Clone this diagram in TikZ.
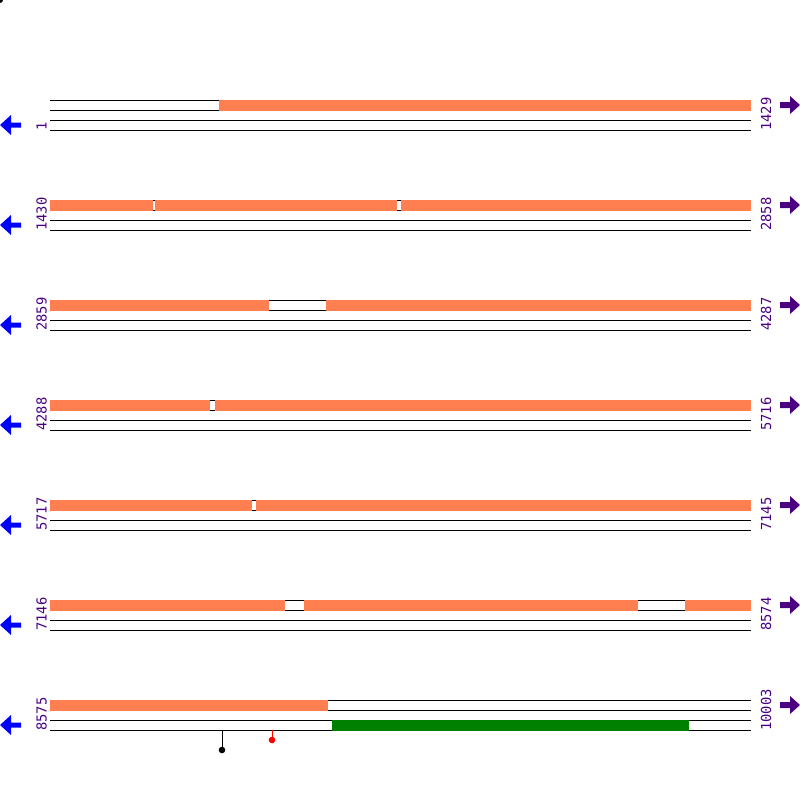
\documentclass[tikz,border=0pt]{standalone}
\usepackage{fontspec}
\newfontfamily\posfont{DejaVu Sans Mono}
\usepackage{xcolor}
\usepackage{tikz}
\usetikzlibrary{positioning}
\definecolor{hitorange}{RGB}{255,127,80}
\definecolor{orfgreen}{RGB}{0,128,0}
\definecolor{posviolet}{RGB}{75,0,130}

\begin{document}
\begin{tikzpicture}[
  x=1pt,
  y=-1pt,
  font=\posfont\fontsize{13.8}{14}\selectfont,
  strand/.style={draw=black, line width=1pt},
  hit/.style={fill=hitorange},
  orf/.style={fill=orfgreen},
  poslabel/.style={text=posviolet, rotate=90, anchor=base west, inner sep=0pt},
  fwdarrow/.style={fill=posviolet},
  revarrow/.style={fill=blue},
  snp/.style={circle, fill, inner sep=0pt, minimum size=6.6pt}
]
  \useasboundingbox (0,0) rectangle (800,800);
  \fill (0,0) circle (3);

  % rows: strands, position labels, direction arrows
  \foreach \r/\first/\last in {0/1/1429,1/1430/2858,2/2859/4287,3/4288/5716,4/5717/7145,5/7146/8574,6/8575/10003} {
    \pgfmathsetmacro{\y}{100+100*\r}
    \foreach \d in {0,10,20,30}
      \draw[strand] (50,\y+\d) -- (751,\y+\d);
    \node[poslabel] (first\r) at (46.5,\y+31) {\first};
    \node[poslabel] (last\r) at (771,\y+31) {\last};
    \fill[revarrow] (0,\y+25) -- (11,\y+15) -- (11,\y+22.5) -- (21,\y+22.5)
      -- (21,\y+27.5) -- (11,\y+27.5) -- (11,\y+35) -- cycle;
    \fill[fwdarrow] (800,\y+5) -- (790,\y-4) -- (790,\y+2) -- (780,\y+2)
      -- (780,\y+8) -- (790,\y+8) -- (790,\y+14) -- cycle;
  }

  % matched regions
  \fill[hit] (219,99.5) rectangle (751,110.5);

  \fill[hit] (50,199.5) rectangle (153.3,210.5);
  \fill[hit] (155.3,199.5) rectangle (396.7,210.5);
  \fill[hit] (401,199.5) rectangle (751,210.5);

  \fill[hit] (50,299.5) rectangle (269,310.5);
  \fill[hit] (326,299.5) rectangle (751,310.5);

  \fill[hit] (50,399.5) rectangle (209.7,410.5);
  \fill[hit] (215.3,399.5) rectangle (751,410.5);

  \fill[hit] (50,499.5) rectangle (251.7,510.5);
  \fill[hit] (256.3,499.5) rectangle (751,510.5);

  \fill[hit] (50,599.5) rectangle (285,610.5);
  \fill[hit] (304,599.5) rectangle (638,610.5);
  \fill[hit] (685,599.5) rectangle (751,610.5);

  \fill[hit] (50,699.5) rectangle (327.7,710.5);
  \fill[orf] (332,719.5) rectangle (689,730.5);

  % variants
  \coordinate (snpatop) at (222,730);
  \node[snp, fill=black] (snpa) at (222,750) {};
  \draw[black, line width=1pt] (snpatop) -- (snpa);
  \coordinate (snpbtop) at (272,730);
  \node[snp, fill=red] (snpb) at (272,740) {};
  \draw[red, line width=1pt] (snpbtop) -- (snpb);
\end{tikzpicture}
\end{document}
